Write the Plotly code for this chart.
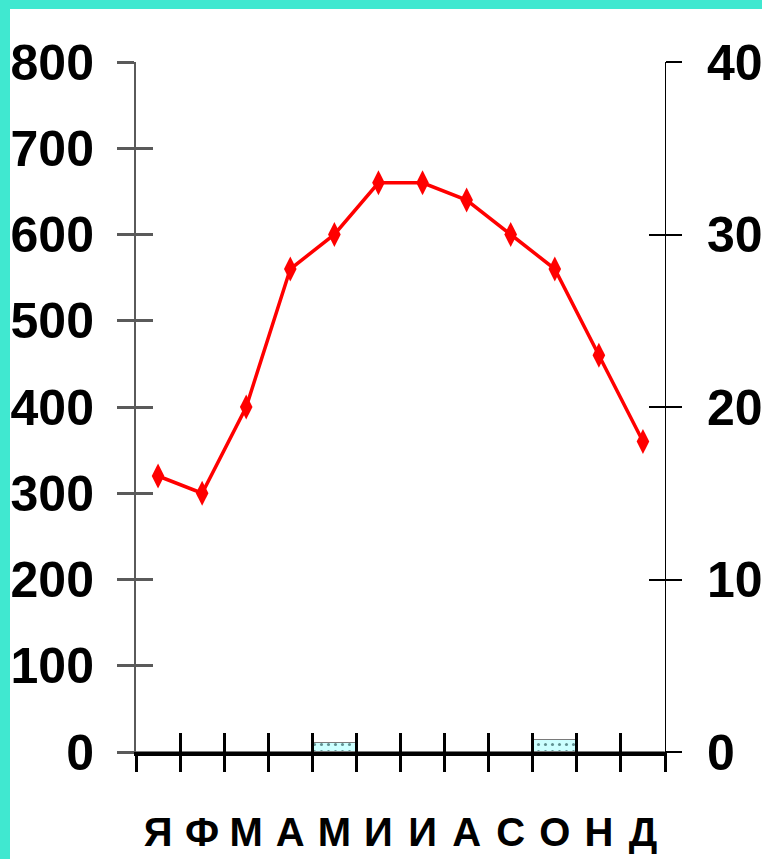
import plotly.graph_objects as go

months = ["Я", "Ф", "М", "А", "М", "И", "И", "А", "С", "О", "Н", "Д"]
temperature = [16, 15, 20, 28, 30, 33, 33, 32, 30, 28, 23, 18]
precipitation = [0, 0, 0, 0, 10, 0, 0, 0, 0, 14, 0, 0]
left_ticks = [0, 100, 200, 300, 400, 500, 600, 700, 800]
right_ticks = [0, 10, 20, 30, 40]

W, H = 762, 859
L, R, T, B = 136, 97, 62, 107
pw, ph = W - L - R, H - T - B

FONT = "Liberation Sans, Arial"
x_idx = list(range(len(months)))
bounds = [i - 0.5 for i in range(len(months) + 1)]

fig = go.Figure()
fig.add_trace(go.Bar(
    x=x_idx, y=precipitation, width=1, xaxis="x", yaxis="y",
    marker=dict(color="#CCFFFF", line=dict(color="#7a7a7a", width=1),
                pattern=dict(shape=".", fgcolor="#5f9090", bgcolor="#CCFFFF", size=7, solidity=0.15)),
    showlegend=False, hoverinfo="skip"))
fig.add_trace(go.Scatter(
    x=x_idx, y=temperature, xaxis="x", yaxis="y2", mode="lines+markers",
    line=dict(color="#FF0000", width=3.5),
    marker=dict(symbol="diamond-tall", size=18, color="#FF0000"),
    showlegend=False, hoverinfo="skip", cliponaxis=False))
# empty helper traces so the overlaid tick-only axes are drawn
fig.add_trace(go.Scatter(x=[], y=[], xaxis="x2", yaxis="y3", showlegend=False, hoverinfo="skip"))
fig.add_trace(go.Scatter(x=[], y=[], xaxis="x3", yaxis="y4", showlegend=False, hoverinfo="skip"))

tickfont_y = dict(family=FONT, size=50, color="black", weight="bold")
gray = "#5a5a5a"

common = dict(automargin=False, showgrid=False, zeroline=False)

fig.update_layout(
    template="none",
    width=W, height=H,
    margin=dict(l=L, r=R, t=T, b=B, pad=0),
    paper_bgcolor="#40E8D0", plot_bgcolor="rgba(0,0,0,0)",
    bargap=0,
    xaxis=dict(range=[-0.5, 11.5], tickvals=x_idx, ticktext=months, ticks="", tickangle=0,
               showline=True, linecolor="black", linewidth=4,
               tickfont=dict(family=FONT, size=40, color="black", weight="bold"),
               ticklabelstandoff=42, **common),
    xaxis2=dict(range=[-0.5, 11.5], overlaying="x", anchor="y", side="bottom",
                tickvals=bounds, ticks="outside", ticklen=19, tickwidth=3, tickcolor="black",
                showticklabels=False, showline=False, **common),
    xaxis3=dict(range=[-0.5, 11.5], overlaying="x", anchor="y", side="bottom",
                tickvals=bounds, ticks="inside", ticklen=19, tickwidth=3, tickcolor="black",
                showticklabels=False, showline=False, **common),
    yaxis=dict(range=[0, 800], tickvals=left_ticks, ticks="outside", ticklen=17, tickwidth=3,
               tickcolor=gray, showline=True, linecolor=gray, linewidth=2,
               tickfont=tickfont_y, ticklabelstandoff=13, **common),
    yaxis3=dict(range=[0, 800], overlaying="y", anchor="x", side="left", tickvals=left_ticks,
                ticks="inside", ticklen=17, tickwidth=3, tickcolor=gray,
                showticklabels=False, showline=False, **common),
    yaxis2=dict(range=[0, 40], overlaying="y", anchor="x", side="right", tickvals=right_ticks,
                ticks="outside", ticklen=16, tickwidth=1.5, tickcolor="black",
                showline=True, linecolor="black", linewidth=1,
                tickfont=tickfont_y, ticklabelstandoff=15, **common),
    yaxis4=dict(range=[0, 40], overlaying="y", anchor="x", side="right", tickvals=right_ticks,
                ticks="inside", ticklen=16, tickwidth=1.5, tickcolor="black",
                showticklabels=False, showline=False, **common),
    shapes=[dict(type="rect", xref="paper", yref="paper", layer="below",
                 x0=(10 - L) / pw, x1=(W - L + 5) / pw,
                 y0=-(B + 5) / ph, y1=(H - 9 - B) / ph,
                 fillcolor="white", line=dict(width=0))],
)

fig.write_html("out.html", config={"displayModeBar": False},
               post_script="document.body.style.margin='0';document.body.style.padding='0';")
